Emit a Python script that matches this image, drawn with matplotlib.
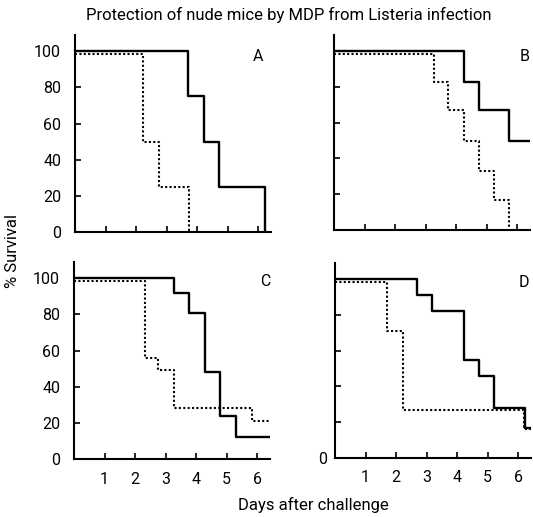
import matplotlib
matplotlib.use("Agg")
import matplotlib.pyplot as plt

# --- данные (дни, % выживших) ---
panels = ["A", "B", "C", "D"]

a_solid_x = [0, 3.71, 4.23, 4.73, 6.23]
a_solid_y = [100, 75, 50, 25, 0]
a_dot_x = [0, 2.22, 2.74, 3.74]
a_dot_y = [98.5, 50, 25, 0]

b_solid_x = [0, 4.25, 4.75, 5.73, 6.42]
b_solid_y = [100, 83, 67, 50, 50]
b_dot_x = [0, 3.27, 3.73, 4.25, 4.75, 5.24, 5.73]
b_dot_y = [98.5, 83, 67, 50, 33, 17, 0]

c_solid_x = [0, 3.28, 3.78, 4.3, 4.79, 5.31, 6.42]
c_solid_y = [100, 92, 81, 48, 24, 12, 12]
c_dot_x = [0, 2.33, 2.76, 3.28, 5.83, 6.42]
c_dot_y = [98.5, 56, 49, 28, 21, 21]

d_solid_x = [0, 2.7, 3.19, 4.22, 4.71, 5.21, 6.23, 6.42]
d_solid_y = [100, 91, 82, 55, 46, 28, 17, 17]
d_dot_x = [0, 1.69, 2.23, 6.2, 6.42]
d_dot_y = [98.5, 71, 27, 16, 16]

day_ticks = [1, 2, 3, 4, 5, 6]
surv_ticks = [0, 20, 40, 60, 80, 100]

FONT = dict(family="Roboto")

fig = plt.figure(figsize=(5.33, 5.17), dpi=100)
W, H = 533, 517

# позиции осей в пикселях: left, top, bottom
boxes = {"A": (75, 35, 232), "B": (334, 35, 230), "C": (74, 262, 459), "D": (335, 263, 458)}
curves = {
    "A": (a_solid_x, a_solid_y, a_dot_x, a_dot_y),
    "B": (b_solid_x, b_solid_y, b_dot_x, b_dot_y),
    "C": (c_solid_x, c_solid_y, c_dot_x, c_dot_y),
    "D": (d_solid_x, d_solid_y, d_dot_x, d_dot_y),
}
letter_pos = {"A": (6.0, 97), "B": (6.25, 97), "C": (6.25, 98), "D": (6.2, 98)}

for name in panels:
    left, top, bottom = boxes[name]
    ax = fig.add_axes([left / W, 1 - bottom / H, 196 / W, (bottom - top) / H])
    sx, sy, dx, dy = curves[name]
    ax.step(dx, dy, where="post", color="black", lw=1.5, linestyle=(0, (1, 1.1)))
    ax.step(sx, sy, where="post", color="black", lw=1.7)

    ax.set_xlim(0, 6.42)
    ax.set_ylim(0, 109)
    for s in ["top", "right"]:
        ax.spines[s].set_visible(False)
    for s in ["left", "bottom"]:
        ax.spines[s].set_linewidth(1.5)
    ax.set_xticks(day_ticks)
    ax.set_yticks(surv_ticks)
    ax.tick_params(direction="in", length=4, width=1.2, labelsize=11.5)
    ax.tick_params(axis="y", pad=10 if name != "D" else 6)

    if name in ("A", "C"):
        ax.set_yticklabels([str(v) for v in surv_ticks], **FONT)
    elif name == "D":
        ax.set_yticklabels(["0", "", "", "", "", ""], **FONT)
    else:
        ax.set_yticklabels([])
    if name in ("C", "D"):
        ax.set_xticklabels([str(v) for v in day_ticks], **FONT)
        ax.tick_params(axis="x", pad=9)
    else:
        ax.set_xticklabels([])

    lx, ly = letter_pos[name]
    ax.text(lx, ly, name, ha="center", va="center", fontsize=11.5, **FONT)

fig.text(289 / W, 1 - 15 / H, "Protection of nude mice by MDP from Listeria infection",
         ha="center", va="center", fontsize=12, **FONT)
fig.text(13 / W, 1 - 251 / H, "% Survival", rotation=90, ha="center", va="center",
         fontsize=12, **FONT)
fig.text(313 / W, 1 - 505 / H, "Days after challenge", ha="center", va="center",
         fontsize=12, **FONT)

fig.savefig("out.png", dpi=100, facecolor="white")
